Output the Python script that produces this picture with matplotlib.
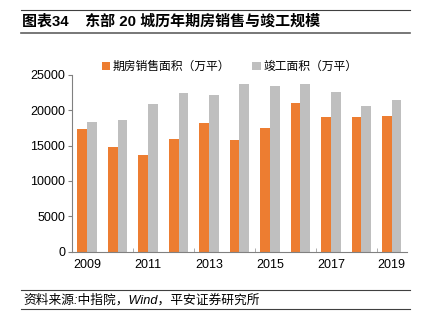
import numpy as np
import matplotlib
matplotlib.use('Agg')
import matplotlib.pyplot as plt
from matplotlib.lines import Line2D

plt.rcParams['font.family'] = ['Liberation Sans', 'Noto Sans CJK SC']

# Datos
years = [2009, 2010, 2011, 2012, 2013, 2014, 2015, 2016, 2017, 2018, 2019]
ventas = [17350, 14850, 13630, 15900, 18150, 15750, 17450, 20990, 19000, 19100, 19250]
terminados = [18300, 18630, 20850, 22450, 22120, 23770, 23490, 23680, 22590, 20660, 21420]
label_ventas = '期房销售面积（万平）'
label_terminados = '竣工面积（万平）'
titulo = '图表34    东部 20 城历年期房销售与竣工规模'
fuente = '资料来源:中指院，Wind，平安证券研究所'

fig = plt.figure(figsize=(4.27, 3.26), dpi=100)
ax = fig.add_axes([0.1686, 0.228, 0.9531 - 0.1686, 0.77 - 0.228])

x = np.arange(len(years))
w = 0.32
ax.bar(x - w / 2, ventas, w, color='#ED7D31', label=label_ventas)
ax.bar(x + w / 2, terminados, w, color='#BFBFBF', label=label_terminados)

ax.set_xlim(-0.5, len(years) - 0.5)
ax.set_ylim(0, 25000)
ax.set_yticks(range(0, 25001, 5000))
ax.set_xticks(x[::2])
ax.set_xticklabels([str(y) for y in years[::2]])
ax.set_xticks(np.arange(1.5, len(years) - 1, 2), minor=True)
ax.tick_params(axis='x', which='major', length=0, labelsize=9, pad=5)
ax.tick_params(axis='x', which='minor', length=3, direction='in', color='#A0A0A0')
ax.tick_params(axis='y', length=3, color='#808080', labelsize=9, pad=2)
for s in ['top', 'right']:
    ax.spines[s].set_visible(False)
ax.spines['left'].set_color('#808080')
ax.spines['bottom'].set_color('#808080')

ax.legend(loc='lower left', bbox_to_anchor=(0.075, 0.985), ncol=2, frameon=False,
          fontsize=8.5, handlelength=0.7, handleheight=0.7, handletextpad=0.2,
          columnspacing=1.9, borderaxespad=0)

# Título y fuente con sus líneas
fig.text(0.052, 1 - 21 / 326, titulo, fontsize=10.8, fontweight='bold', va='center', ha='left')
fig.add_artist(Line2D([0.05, 0.96], [1 - 10 / 326, 1 - 10 / 326], color='#404040', lw=0.8))
fig.add_artist(Line2D([0.05, 0.96], [1 - 33 / 326, 1 - 33 / 326], color='#606060', lw=1.2))
fig.text(0.054, 1 - 300 / 326, fuente, fontsize=9.2, style='italic', va='center', ha='left')
fig.add_artist(Line2D([0.05, 0.96], [1 - 290 / 326, 1 - 290 / 326], color='#404040', lw=0.8))
fig.add_artist(Line2D([0.05, 0.96], [1 - 309 / 326, 1 - 309 / 326], color='#404040', lw=0.8))

fig.savefig('out.png', dpi=100)
